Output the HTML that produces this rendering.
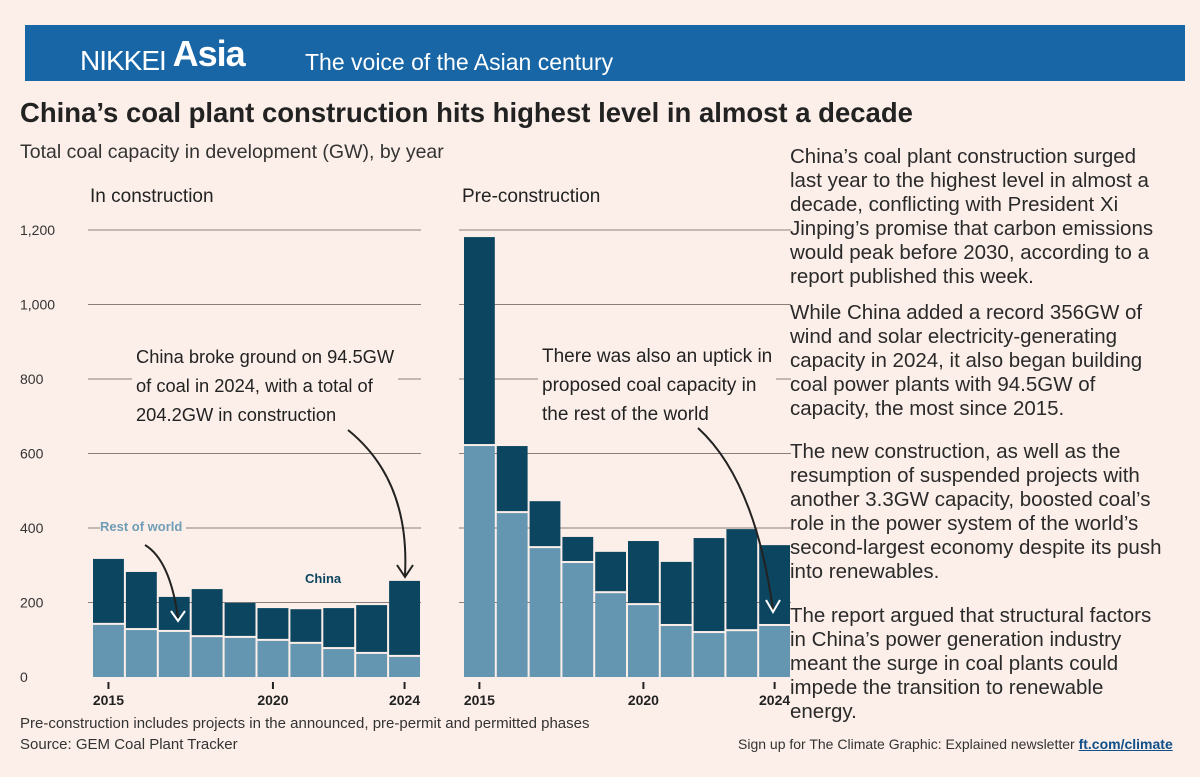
<!DOCTYPE html>
<html><head><meta charset="utf-8"><style>
body{margin:0;width:1200px;height:777px;background:#fcefe9;font-family:"Liberation Sans",sans-serif;color:#222;position:relative;overflow:hidden}
.a{position:absolute;white-space:nowrap}
#hdr{left:25px;top:25px;width:1160px;height:56px;background:#1866a6}
.para{position:absolute;left:790px;font-size:20.5px;line-height:24px;color:#2a2a2a;white-space:nowrap}
</style></head><body>
<div id="hdr" class="a">
 <span class="a" style="left:55px;top:12px;color:#fff;font-size:28px;letter-spacing:-1px">NIKKEI <b style="font-size:36px;position:relative;top:-4px">Asia</b></span>
 <span class="a" style="left:280px;top:24px;color:#fff;font-size:23px">The voice of the Asian century</span>
</div>
<div class="a" style="left:20px;top:97px;font-size:27.5px;font-weight:bold;color:#222">China’s coal plant construction hits highest level in almost a decade</div>
<div class="a" style="left:20px;top:141px;font-size:19.5px;color:#333">Total coal capacity in development (GW), by year</div>
<div class="para" style="top:145px">China’s coal plant construction surged<br>last year to the highest level in almost a<br>decade, conflicting with President Xi<br>Jinping’s promise that carbon emissions<br>would peak before 2030, according to a<br>report published this week.</div>
<div class="para" style="top:301px">While China added a record 356GW of<br>wind and solar electricity-generating<br>capacity in 2024, it also began building<br>coal power plants with 94.5GW of<br>capacity, the most since 2015.</div>
<div class="para" style="top:440px">The new construction, as well as the<br>resumption of suspended projects with<br>another 3.3GW capacity, boosted coal’s<br>role in the power system of the world’s<br>second-largest economy despite its push<br>into renewables.</div>
<div class="para" style="top:604px">The report argued that structural factors<br>in China’s power generation industry<br>meant the surge in coal plants could<br>impede the transition to renewable<br>energy.</div>
<div class="a" style="left:20px;top:715px;font-size:15px;color:#333">Pre-construction includes projects in the announced, pre-permit and permitted phases</div>
<div class="a" style="left:20px;top:736px;font-size:15px;color:#333">Source: GEM Coal Plant Tracker</div>
<div class="a" style="left:738px;top:736px;font-size:14px;color:#333">Sign up for The Climate Graphic: Explained newsletter <u style="color:#0f4f8a;font-weight:bold">ft.com/climate</u></div>
<svg class="a" style="left:0;top:0" width="1200" height="777" id="chart"></svg>
<script>
const years=[2015,2016,2017,2018,2019,2020,2021,2022,2023,2024];
const inConstrRoW=[140,126,121,107,105,97,89,75,62,54];
const inConstrChina=[177,156,94,129,94,88,93,110,131,204];
const preConstrRoW=[620,440,346,306,225,193,137,118,123,137];
const preConstrChina=[561,180,126,70,111,172,172,255,274,217];
const yTicks=[0,200,400,600,800,1000,1200];
const xTickYears=[2015,2020,2024];
const NS='http://www.w3.org/2000/svg';
const svg=document.getElementById('chart');
const y0=677,y1200=230;
function yS(v){return y0-(y0-y1200)*v/1200;}
function mk(t,a,p){const e=document.createElementNS(NS,t);for(const k in a)e.setAttribute(k,a[k]);(p||svg).appendChild(e);return e;}
const panels=[{x0:92,x1:421,row:inConstrRoW,cn:inConstrChina,n:'in-construction'},{x0:463,x1:791,row:preConstrRoW,cn:preConstrChina,n:'pre-construction'}];
yTicks.forEach(v=>{
 const t=mk('text',{x:20,y:yS(v)+5,'font-size':14,fill:'#333','font-family':'Liberation Sans'});t.textContent=v.toLocaleString('en-US');
 
 
 if(v>0)panels.forEach(p=>{const l=mk('line',{x1:p.x0-4,x2:p.x1,y1:yS(v),y2:yS(v),stroke:'#8a7f78','stroke-width':1});
 
 });
});
panels.forEach(p=>{
 const bw=(p.x1-p.x0)/years.length;
 function xS(yr){return p.x0+(yr-years[0])*bw;}
 years.forEach((yr,i)=>{
  const tot=p.row[i]+p.cn[i];
  const r1=mk('rect',{x:xS(yr)+1,y:yS(p.row[i]),width:bw-2,height:y0-yS(p.row[i]),fill:'#6596b1'});
  
  
  const r2=mk('rect',{x:xS(yr)+1,y:yS(tot),width:bw-2,height:yS(p.row[i])-yS(tot)-2,fill:'#0b4560'});
  
  
 });
 xTickYears.forEach(yr=>{
  const cx=xS(yr)+bw/2;
  const l=mk('line',{x1:cx,x2:cx,y1:682,y2:689,stroke:'#222','stroke-width':2});
  
  
  const t=mk('text',{x:cx,y:705,'font-size':14,'font-weight':'bold','text-anchor':'middle',fill:'#222','font-family':'Liberation Sans'});t.textContent=yr;
  
  
 });
});
</script>
<div class="a" style="left:90px;top:186px;font-size:19px">In construction</div>
<div class="a" style="left:462px;top:186px;font-size:19px">Pre-construction</div>
<div class="a" style="left:132px;top:342px;font-size:18.3px;line-height:29px;background:#fcefe9;padding:0 4px">China broke ground on 94.5GW<br>of coal in 2024, with a total of<br>204.2GW in construction</div>
<div class="a" style="left:538px;top:342px;font-size:19px;line-height:29px;background:#fcefe9;padding:0 4px">There was also an uptick in<br>proposed coal capacity in<br>the rest of the world</div>
<div class="a" style="left:100px;top:519px;font-size:13px;font-weight:bold;color:#6f9db6;background:#fcefe9;padding-right:4px">Rest of world</div>
<div class="a" style="left:305px;top:571px;font-size:13px;font-weight:bold;color:#0b4560">China</div>
<svg class="a" style="left:0;top:0" width="1200" height="777">
<path d="M145 545 Q170 560 178 618" fill="none" stroke="#222" stroke-width="2"/>
<path d="M171 611 L178 621 L185 611" fill="none" stroke="#fff" stroke-width="2"/>
<path d="M348 430 Q410 480 405 575" fill="none" stroke="#222" stroke-width="2"/>
<path d="M397 565 L405 577 L413 565" fill="none" stroke="#222" stroke-width="2"/>
<path d="M698 428 Q755 480 773 610" fill="none" stroke="#222" stroke-width="2"/>
<path d="M766 600 L773 612 L780 600" fill="none" stroke="#fff" stroke-width="2"/>
</svg>
</body></html>
